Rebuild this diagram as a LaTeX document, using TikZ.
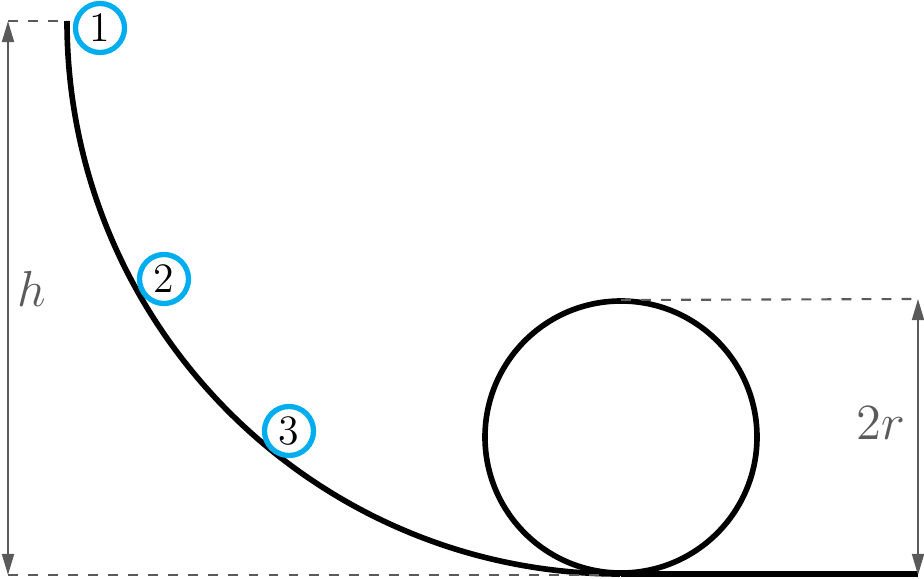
\documentclass[tikz,border=0pt]{standalone}
\usepackage{xcolor}
\usepackage{amsmath,amssymb}
\usetikzlibrary{arrows.meta}
\definecolor{stagecyan}{HTML}{00AEEF}
\definecolor{dimgray}{HTML}{5A5A5A}

\begin{document}
\begin{tikzpicture}[x=0.01cm, y=-0.01cm,
	track/.style={line width=1.6pt, black},
	dimline/.style={line width=0.6pt, dimgray, {Triangle[length=6pt,width=3.4pt]}-{Triangle[length=6pt,width=3.4pt]}},
	helpline/.style={line width=0.6pt, dimgray, dash pattern=on 2.8pt off 2.9pt},
	stage/.style={circle, draw=stagecyan, line width=1.5pt, minimum size=0.49cm, inner sep=0pt, font=\fontsize{11.9}{14}\selectfont},
	dimlabel/.style={text=dimgray, font=\fontsize{14.8}{18}\selectfont}]
	\useasboundingbox (0,0) rectangle (924,579);
	% Points of the track:
	\coordinate (Top) at (67,21);
	\coordinate (Bot) at (621,574);
	\coordinate (LoopC) at (621,437);
	\coordinate (LoopTop) at (621,300);
	\coordinate (GroundEnd) at (918,574);
	% Track, loop and ground:
	\draw[track] (Top) arc[start angle=180, end angle=90, radius=553];
	\draw[track] (LoopC) circle[radius=136];
	\draw[track] (Bot) -- (GroundEnd);
	% Helper lines and dimensions:
	\coordinate (HTop) at (8,21);
	\coordinate (HBot) at (8,575);
	\coordinate (RTop) at (918,299);
	\coordinate (RBot) at (918,575);
	\draw[helpline] (HTop) -- (Top);
	\draw[helpline] (HBot) -- (600,575);
	\draw[helpline] (LoopTop) -- (RTop);
	\draw[dimline] (HTop) -- (HBot);
	\draw[dimline] (RTop) -- (RBot);
	\node[dimlabel] (H) at (32,289) {$h$};
	\node[dimlabel] (TwoR) at (881,423) {$2r$};
	% Stages:
	\node[stage] (S1) at (100,28) {1};
	\node[stage] (S2) at (164,279) {2};
	\node[stage] (S3) at (289,431) {3};
\end{tikzpicture}
\end{document}
